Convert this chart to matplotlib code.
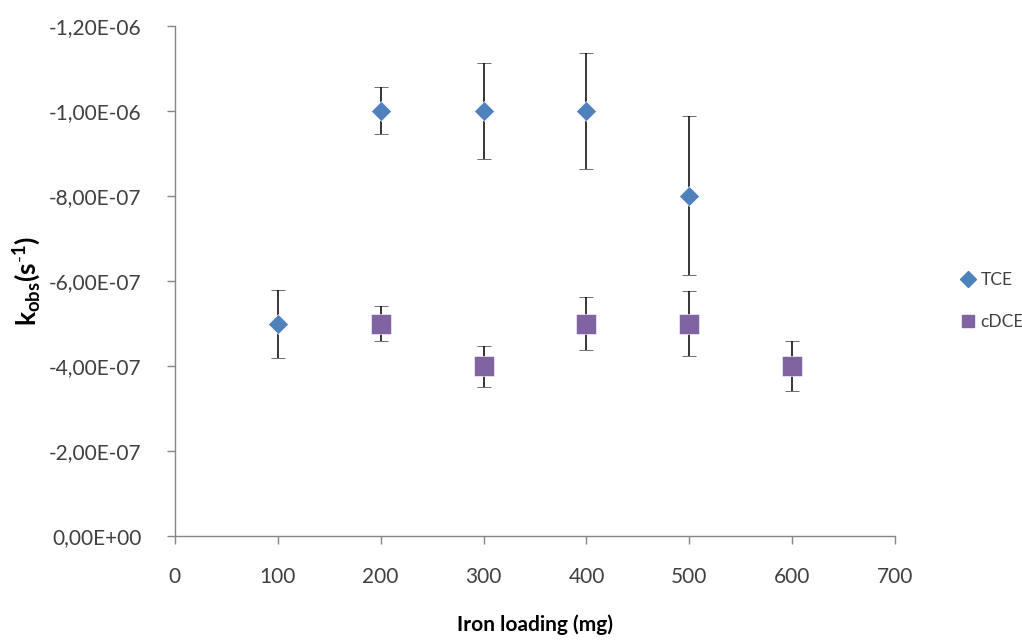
import matplotlib
matplotlib.use("Agg")
import matplotlib.pyplot as plt
import matplotlib.ticker as ticker
from matplotlib.lines import Line2D

# ── data ────────────────────────────────────────────────────────────────────
tce_x   = [100, 200, 300, 400, 500]
tce_k   = [-5.0e-7, -1.0e-6, -1.0e-6, -1.0e-6, -8.0e-7]
tce_err = [8.0e-8, 5.5e-8, 1.13e-7, 1.36e-7, 1.87e-7]

cdce_x   = [200, 300, 400, 500, 600]
cdce_k   = [-5.0e-7, -4.0e-7, -5.0e-7, -5.0e-7, -4.0e-7]
cdce_err = [4.2e-8, 4.8e-8, 6.3e-8, 7.6e-8, 5.8e-8]

x_ticks = [0, 100, 200, 300, 400, 500, 600, 700]
y_ticks = [0, -2e-7, -4e-7, -6e-7, -8e-7, -1.0e-6, -1.2e-6]
# ────────────────────────────────────────────────────────────────────────────

plt.rcParams["font.family"] = ["Lato", "DejaVu Sans"]
plt.rcParams["mathtext.fontset"] = "custom"
plt.rcParams["mathtext.rm"] = "Lato"
plt.rcParams["mathtext.bf"] = "Lato:bold"

blue = "#4F81BD"
purple = "#8064A2"
axis_grey = "#868686"
text_col = "#404040"

fig = plt.figure(figsize=(10.22, 6.43), dpi=100)
ax = fig.add_axes([0.171, 0.166, 0.705, 0.794])

ax.errorbar(tce_x, tce_k, yerr=tce_err, fmt="D", ms=10, color=blue,
            mec="white", mew=0.4, ecolor="black", elinewidth=1.1,
            capsize=5, capthick=1.1, zorder=3)
ax.errorbar(cdce_x, cdce_k, yerr=cdce_err, fmt="s", ms=15, color=purple,
            mec="white", mew=0.4, ecolor="black", elinewidth=1.1,
            capsize=5, capthick=1.1, zorder=3)

ax.set_xlim(0, 700)
ax.set_ylim(0, -1.2e-6)
ax.set_xticks(x_ticks)
ax.set_yticks(y_ticks)
ax.yaxis.set_major_formatter(
    ticker.FuncFormatter(lambda v, _: f"{v:.2E}".replace(".", ",")))

for side in ["top", "right"]:
    ax.spines[side].set_visible(False)
for side in ["left", "bottom"]:
    ax.spines[side].set_color(axis_grey)
    ax.spines[side].set_linewidth(1.0)

ax.tick_params(axis="both", direction="out", length=6, width=1.0,
               color=axis_grey, labelsize=15, labelcolor=text_col)
ax.tick_params(axis="x", pad=16)
ax.tick_params(axis="y", pad=18)

ax.set_xlabel("Iron loading (mg)", fontsize=15, fontweight="bold",
              color="black", labelpad=20)
ax.set_ylabel(r"$\mathbf{k_{obs}(s^{\text{-}1})}$", fontsize=19,
              color="black", labelpad=4)

handles = [
    Line2D([], [], marker="D", ls="none", ms=8, color=blue),
    Line2D([], [], marker="s", ls="none", ms=8, color=purple),
]
ax.legend(handles, ["TCE", "cDCE"], loc="center left",
          bbox_to_anchor=(1.07, 0.46), frameon=False, fontsize=12.5,
          handlelength=0.8, handletextpad=0.3, labelspacing=1.5,
          labelcolor=text_col)

fig.savefig("out.png", dpi=100)
